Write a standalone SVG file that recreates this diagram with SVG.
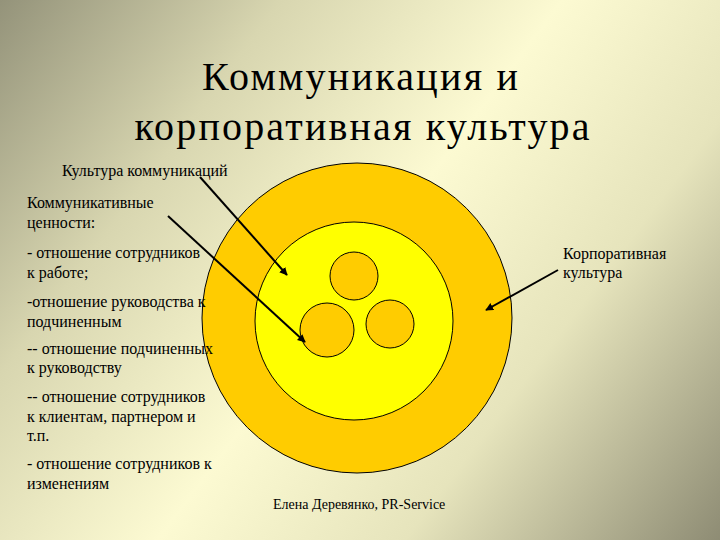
<svg xmlns="http://www.w3.org/2000/svg" width="720" height="540" viewBox="0 0 720 540">
<defs>
<linearGradient id="bg" x1="0" y1="0" x2="720" y2="540" gradientUnits="userSpaceOnUse">
<stop offset="0" stop-color="#94937a"/>
<stop offset="0.25" stop-color="#d8d6b0"/>
<stop offset="0.5" stop-color="#fcfad2"/>
<stop offset="0.72" stop-color="#e6e4bc"/>
<stop offset="1" stop-color="#8e8c74"/>
</linearGradient>
<marker id="ah" viewBox="0 0 10 10" refX="9" refY="5" markerWidth="8" markerHeight="8" markerUnits="userSpaceOnUse" orient="auto">
<path d="M0,0 L10,5 L0,10 z" fill="#000"/>
</marker>
</defs>
<rect width="720" height="540" fill="url(#bg)"/>
<g id="outer"><circle cx="357" cy="318" r="155" fill="#ffcc00" stroke="#000" stroke-width="1"/></g>
<g id="inner"><circle cx="354" cy="321" r="99" fill="#ffff00" stroke="#000" stroke-width="1"/></g>
<g id="small1"><circle cx="354" cy="276" r="24" fill="#ffcc00" stroke="#000" stroke-width="1"/></g>
<g id="small2"><circle cx="327" cy="330" r="27" fill="#ffcc00" stroke="#000" stroke-width="1"/></g>
<g id="small3"><circle cx="390" cy="324" r="24" fill="#ffcc00" stroke="#000" stroke-width="1"/></g>
<g id="title">
<text x="360" y="90" font-size="40" font-family="Liberation Serif" text-anchor="middle" textLength="316" lengthAdjust="spacing">Коммуникация и</text>
<text x="362" y="140" font-size="40" font-family="Liberation Serif" text-anchor="middle" textLength="455" lengthAdjust="spacing">корпоративная культура</text>
</g>
<g id="label-culture-comm"><text x="62" y="176" font-size="16" font-family="Liberation Serif">Культура коммуникаций</text></g>
<g id="label-values">
<text x="27" y="208" font-size="16" font-family="Liberation Serif">Коммуникативные</text>
<text x="27" y="228" font-size="16" font-family="Liberation Serif">ценности:</text>
<text x="27" y="258" font-size="16" font-family="Liberation Serif">- отношение сотрудников</text>
<text x="27" y="278" font-size="16" font-family="Liberation Serif">к работе;</text>
<text x="27" y="307" font-size="16" font-family="Liberation Serif">-отношение руководства к</text>
<text x="27" y="327" font-size="16" font-family="Liberation Serif">подчиненным</text>
<text x="27" y="354" font-size="16" font-family="Liberation Serif">-- отношение подчиненных</text>
<text x="27" y="373" font-size="16" font-family="Liberation Serif">к руководству</text>
<text x="27" y="402" font-size="16" font-family="Liberation Serif">-- отношение сотрудников</text>
<text x="27" y="422" font-size="16" font-family="Liberation Serif">к клиентам, партнером и</text>
<text x="27" y="441" font-size="16" font-family="Liberation Serif">т.п.</text>
<text x="27" y="469" font-size="16" font-family="Liberation Serif">- отношение сотрудников к</text>
<text x="27" y="489" font-size="16" font-family="Liberation Serif">изменениям</text>
</g>
<g id="label-corp">
<text x="563" y="259" font-size="16" font-family="Liberation Serif">Корпоративная</text>
<text x="563" y="278" font-size="16" font-family="Liberation Serif">культура</text>
</g>
<g id="footer"><text x="273" y="509" font-size="14" font-family="Liberation Serif">Елена Деревянко, PR-Service</text></g>
<g id="connectors" stroke="#000" stroke-width="2" fill="none" marker-end="url(#ah)">
<line x1="200" y1="177" x2="287" y2="275"/>
<line x1="168" y1="216" x2="305" y2="342"/>
<line x1="558" y1="270" x2="486" y2="310"/>
</g>
</svg>
